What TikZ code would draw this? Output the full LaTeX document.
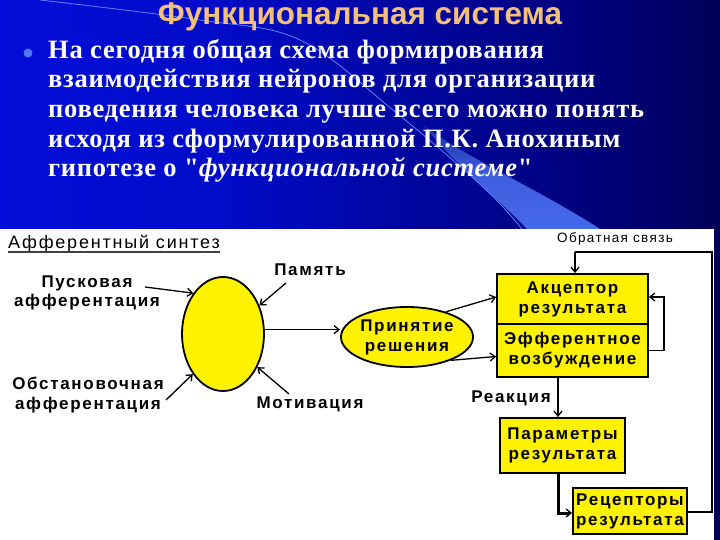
\documentclass[tikz,border=0pt]{standalone}
\usepackage{fontspec}
\setmainfont{Liberation Serif}
\newfontfamily\bodyfont[LetterSpace=2.8]{Liberation Serif}
\newfontfamily\dg[LetterSpace=10]{Liberation Sans}
\newfontfamily\ttlfont{Liberation Sans}
\usetikzlibrary{shapes.geometric,arrows.meta}
\definecolor{titleorange}{RGB}{242,192,122}
\definecolor{bulletblue}{RGB}{80,120,240}
\definecolor{beamblue}{RGB}{70,105,235}
\definecolor{beamdark}{RGB}{30,50,170}
\definecolor{arcblue}{RGB}{100,130,255}
\definecolor{c1}{RGB}{10,16,245}
\definecolor{c2}{RGB}{0,12,200}
\definecolor{c3}{RGB}{0,0,110}
\definecolor{c4}{RGB}{0,0,30}
\pgfdeclarehorizontalshading{bgshade}{100bp}{color(0bp)=(c1); color(40bp)=(c2); color(70bp)=(c3); color(88bp)=(c4); color(100bp)=(black)}
\tikzset{
  arr/.style={-{Straight Barb[length=5pt,width=8pt]}, line width=1.3pt},
  ybox/.style={draw, line width=1.8pt, fill=yellow, inner sep=0pt, align=center,
    font=\dg\bfseries\fontsize{17}{20}\selectfont},
  lbl/.style={inner sep=0pt, align=center, font=\dg\bfseries\fontsize{17}{19.5}\selectfont}
}
\begin{document}
\begin{tikzpicture}[x=1pt,y=-1pt]
\useasboundingbox (0,0) rectangle (720,540);
% background
\shade[shading=bgshade] (0,0) rectangle (720,540);
\shade[top color=beamdark, bottom color=beamblue, middle color=beamblue!80!beamdark]
  (423,125) .. controls (460,170) and (500,200) .. (527,229) -- (600,229) .. controls (540,190) and (470,160) .. (423,125) -- cycle;
\draw[arcblue, line width=0.8pt] plot[smooth, tension=0.6] coordinates {(40,0) (200,20) (300,40) (393,110) (483,187) (522,229)};
\fill[white] (0,229) rectangle (714,540);
% title and text
\node[font=\ttlfont\bfseries\fontsize{31.5}{31.5}\selectfont, text=titleorange, anchor=base, inner sep=0pt] (title) at (360,25) {Функциональная система};
\node[circle, fill=bulletblue, minimum size=9pt, inner sep=0pt] (bul) at (28,53) {};
\node[anchor=north west, text=white, font=\bodyfont\bfseries\fontsize{26.5}{29.7}\selectfont, align=left, inner sep=0pt] (body) at (48,39)
 {На сегодня общая схема формирования\\
  взаимодействия нейронов для организации\\
  поведения человека лучше всего можно понять\\
  исходя из сформулированной П.К. Анохиным\\
  гипотезе о \textquotedbl\textit{функциональной системе}\textquotedbl};
% diagram
\node[anchor=base west, inner sep=0pt, font=\dg\fontsize{18}{18}\selectfont] (afs) at (8,248) {Афферентный синтез};
\draw[line width=1.2pt, black!75] ([yshift=-4pt]afs.base west) -- ([yshift=-4pt]afs.base east);
\node[ellipse, draw, line width=1.8pt, fill=yellow, minimum width=82pt, minimum height=114pt, inner sep=0pt] (syn) at (223,334) {};
\node[ellipse, draw, line width=1.8pt, fill=yellow, minimum width=112pt, minimum height=60pt, inner sep=0pt, font=\dg\bfseries\fontsize{17}{20}\selectfont, align=center] (prin) at (407,337) {Принятие\\решения};
\node[ybox, minimum width=151pt, minimum height=50pt] (akc) at (572.5,299) {Акцептор\\результата};
\node[ybox, minimum width=151pt, minimum height=53pt] (eff) at (572.5,350.5) {Эфферентное\\возбуждение};
\node[ybox, minimum width=125pt, minimum height=55pt] (param) at (562.5,445.5) {Параметры\\результата};
\node[ybox, minimum width=114pt, minimum height=46pt] (rec) at (630,511) {Рецепторы\\результата};
\node[lbl] (pusk) at (87,293) {Пусковая\\афферентация};
\node[lbl] (obst) at (88,395) {Обстановочная\\афферентация};
\node[lbl] (pam) at (310,270) {Память};
\node[lbl] (motiv) at (310,404) {Мотивация};
\node[lbl] (reak) at (511,398) {Реакция};
\node[inner sep=0pt, font=\dg\fontsize{13.5}{14}\selectfont] (obr) at (615,239) {Обратная связь};
% free ends
\coordinate (pA) at (145,287);
\coordinate (oA) at (166,400);
\coordinate (mA) at (286,283);
\coordinate (vA) at (289,394);
\coordinate (rx) at (558,0);
\coordinate (fbR) at (712,252);
\coordinate (fbL) at (575,252);
% connectors
\draw[arr] (pA) -- (syn.126);
\draw[arr] (oA) -- (syn.-127);
\draw[arr] (mA) -- (syn.38);
\draw[arr] (vA) -- (syn.-44);
\draw[arr] (syn.6) -- (syn.6 -| prin.west);
\draw[arr] (prin.33) -- ([yshift=2pt]akc.west);
\draw[arr] (prin.-28) -- ([yshift=-6pt]eff.west);
\draw[arr] (eff.east) -- ++(15,0) |- ([yshift=2pt]akc.east);
\draw[arr] (eff.south -| rx) -- (param.north -| rx);
\draw[-{Straight Barb[length=5pt,width=8pt,line width=1.3pt]}, line width=3pt] (param.south -| rx) |- ([yshift=-2pt]rec.west);
\draw[line width=1.3pt] ([yshift=-1pt]rec.east) -| (fbR) -- (fbL);
\draw[arr] (fbL) -- (akc.north -| fbL);
\end{tikzpicture}
\end{document}
